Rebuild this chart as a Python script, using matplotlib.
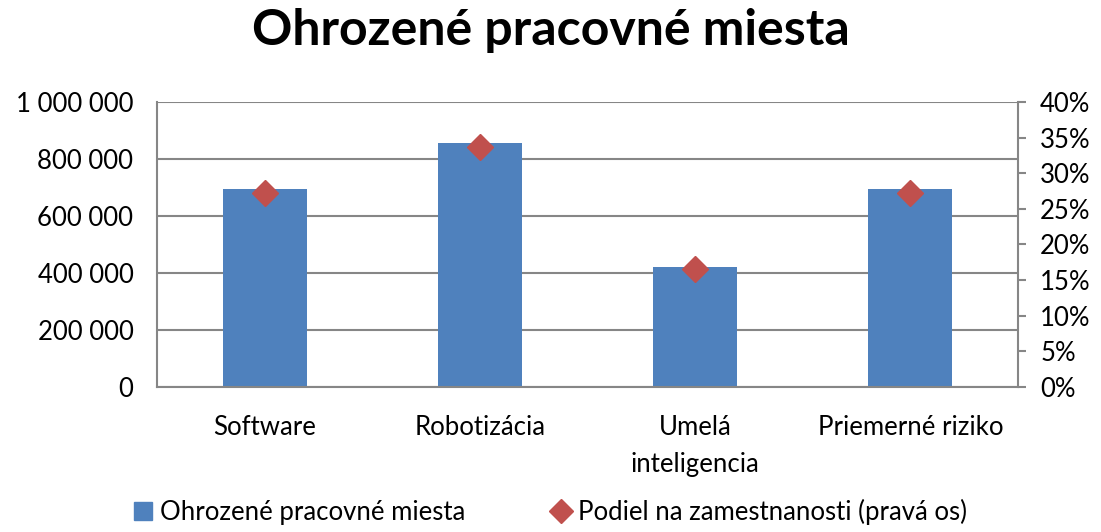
import matplotlib
matplotlib.use("Agg")
import matplotlib.pyplot as plt
from matplotlib.ticker import FuncFormatter, MultipleLocator

plt.rcParams['font.family'] = ['Lato', 'DejaVu Sans']

categories = ["Software", "Robotizácia", "Umelá\ninteligencia", "Priemerné riziko"]
jobs = [695000, 856000, 421000, 695000]
share = [27.2, 33.7, 16.6, 27.2]

bar_color = "#4f81bd"
marker_color = "#c0504d"

fig = plt.figure(figsize=(11.01, 5.32), dpi=100)
ax = fig.add_axes([0.1426, 0.2726, 0.782, 0.5357])
x = range(len(categories))

# bars on the left axis
ax.bar(x, jobs, width=0.39, color=bar_color, zorder=2)
ax.set_ylim(0, 1000000)
ax.set_xlim(-0.5, len(categories) - 0.5)
ax.yaxis.set_major_locator(MultipleLocator(200000))
ax.yaxis.set_major_formatter(FuncFormatter(lambda v, p: f"{int(v):,}".replace(",", " ")))
ax.grid(axis='y', color="#868686", linewidth=1.5, zorder=0)
ax.set_xticks(list(x))
ax.set_xticklabels(categories, fontsize=18.5, linespacing=1.6)
ax.tick_params(axis='x', length=0, pad=20)
ax.tick_params(axis='y', length=0, labelsize=18.5, pad=17)
for s in ['top', 'right']:
    ax.spines[s].set_visible(False)
for s in ['left', 'bottom']:
    ax.spines[s].set_color("#868686")
    ax.spines[s].set_linewidth(1.5)

# share of employment on the right axis
ax2 = ax.twinx()
ax2.plot(x, share, linestyle='none', marker='D', markersize=13, color=marker_color, zorder=3)
ax2.set_ylim(0, 40)
ax2.yaxis.set_major_locator(MultipleLocator(5))
ax2.yaxis.set_major_formatter(FuncFormatter(lambda v, p: f"{int(v)}%"))
ax2.tick_params(axis='y', length=6, width=1.5, color="#868686", labelsize=18.5, pad=10)
for s in ['top', 'left', 'bottom']:
    ax2.spines[s].set_visible(False)
ax2.spines['right'].set_color("#868686")
ax2.spines['right'].set_linewidth(1.5)

fig.suptitle("Ohrozené pracovné miesta", fontsize=36, fontweight='bold', y=0.985)

# legend at the bottom
h1 = plt.Rectangle((0, 0), 1, 1, color=bar_color)
h2 = plt.Line2D([], [], linestyle='none', marker='D', markersize=12, color=marker_color)
fig.legend([h1, h2], ["Ohrozené pracovné miesta", "Podiel na zamestnanosti (pravá os)"],
           loc='lower center', bbox_to_anchor=(0.5, -0.03), ncol=2, frameon=False,
           fontsize=18.5, handlelength=0.7, handletextpad=0.3, columnspacing=3.4)

fig.savefig("out.png", dpi=100)
